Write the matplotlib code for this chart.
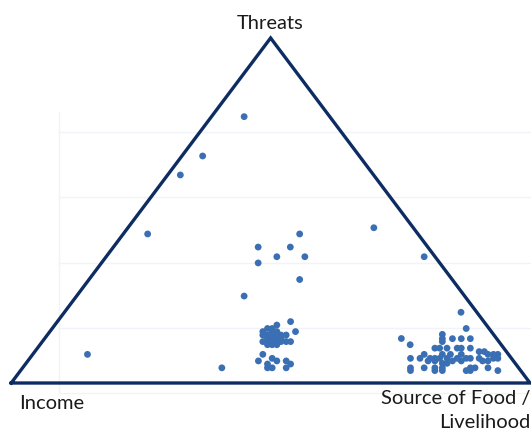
import matplotlib
matplotlib.use("Agg")
import matplotlib.pyplot as plt
import numpy as np

# Vertex labels
vertex_labels = ["Income", "Threats", "Source of Food /\nLivelihood"]

# Point positions: position along base (0 = Income, 1 = Source of Food) and Threats share (height)
base_pos = [
    0.449, 0.369, 0.326, 0.263, 0.147, 0.406, 0.449, 0.476, 0.476, 0.512,
    0.538, 0.556, 0.566, 0.556, 0.699, 0.796, 0.867, 0.877, 0.752, 0.769,
    # middle cluster
    0.5385, 0.512, 0.548, 0.485, 0.494, 0.503, 0.512, 0.494, 0.520, 0.530,
    0.494, 0.503, 0.512, 0.494, 0.503, 0.530, 0.5385, 0.494, 0.503, 0.512,
    0.485, 0.4765, 0.503, 0.512, 0.494, 0.503, 0.494, 0.530, 0.5385, 0.530,
    0.503, 0.512, 0.520, 0.485, 0.503, 0.520, 0.485, 0.512,
    # right cluster
    0.831, 0.831, 0.8505, 0.8675, 0.885, 0.831,
    0.8166, 0.8258, 0.840, 0.8597, 0.8675, 0.885,
    0.902, 0.912,
    0.796, 0.831, 0.8466, 0.8675, 0.919, 0.9295, 0.938,
    0.7696, 0.788, 0.8074, 0.8166, 0.8258, 0.840, 0.8597, 0.877, 0.885, 0.902, 0.9295, 0.938,
    0.8035, 0.8166, 0.8505, 0.8675, 0.9086, 0.919,
    0.840, 0.831,
    0.7696, 0.796, 0.8166, 0.831, 0.885, 0.894, 0.919,
    0.7696, 0.8166, 0.831, 0.877, 0.885, 0.938,
]
threats = [
    0.772, 0.658, 0.603, 0.432, 0.083, 0.044, 0.252, 0.394, 0.348, 0.366,
    0.394, 0.432, 0.366, 0.300, 0.450, 0.366, 0.205, 0.158, 0.129, 0.111,
    # middle cluster
    0.178, 0.168, 0.149, 0.149, 0.158, 0.149, 0.139, 0.139, 0.139, 0.139,
    0.129, 0.129, 0.129, 0.120, 0.120, 0.120, 0.120, 0.111, 0.111, 0.111,
    0.083, 0.064, 0.0715, 0.064, 0.055, 0.044, 0.044, 0.064, 0.055, 0.044,
    0.139, 0.120, 0.129, 0.139, 0.158, 0.120, 0.120, 0.149,
    # right cluster
    0.141, 0.1285, 0.1285, 0.1285, 0.1285, 0.120,
    0.101, 0.101, 0.101, 0.101, 0.101, 0.101,
    0.091, 0.091,
    0.083, 0.083, 0.083, 0.083, 0.083, 0.083, 0.083,
    0.0715, 0.0715, 0.0715, 0.0715, 0.0715, 0.0715, 0.0715, 0.0715, 0.0715, 0.0715, 0.0715, 0.0715,
    0.064, 0.064, 0.064, 0.064, 0.064, 0.064,
    0.057, 0.057,
    0.044, 0.044, 0.044, 0.044, 0.044, 0.044, 0.044,
    0.036, 0.036, 0.036, 0.036, 0.036, 0.036,
]

# Background gridlines of the underlying chart (Threats scale)
grid_levels = [-0.030, 0.158, 0.348, 0.538, 0.727]
grid_left = 0.0927
grid_top = 0.786

fig = plt.figure(figsize=(5.31, 4.34), dpi=100)
ax = fig.add_axes([0, 0, 1, 1])
ax.set_xlim(-0.0216, 1.0019)
ax.set_ylim(-0.1478, 1.1101)
ax.axis("off")

grid_color = "#f0f3f8"
for g in grid_levels:
    ax.plot([grid_left, 1.1], [g, g], color=grid_color, lw=1.0, zorder=1)
ax.plot([grid_left, grid_left], [grid_levels[0], grid_top], color=grid_color, lw=1.0, zorder=1)

# Triangle
tri_x = [0, 0.5, 1, 0]
tri_y = [0, 1, 0, 0]
ax.plot(tri_x, tri_y, color="#0d2d62", lw=2.4, solid_joinstyle="miter", zorder=2, clip_on=False)

ax.scatter(base_pos, threats, s=24, color="#3b6fb3", edgecolors="none", zorder=3)

font = "Lato"
tc = "#1a1a1a"
fs = 14.5
ax.annotate(vertex_labels[1], xy=(0.5, 1), xytext=(0, 9), textcoords="offset pixels",
            ha="center", va="baseline", fontsize=fs, family=font, color=tc)
ax.annotate(vertex_labels[0], xy=(0, 0), xytext=(8, -26), textcoords="offset pixels",
            ha="left", va="baseline", fontsize=fs, family=font, color=tc)
ax.annotate(vertex_labels[2], xy=(1, 0), xytext=(0, -7), textcoords="offset pixels",
            ha="right", va="top", fontsize=fs, family=font, color=tc, linespacing=1.5,
            multialignment="right")

fig.savefig("out.png", dpi=100)
